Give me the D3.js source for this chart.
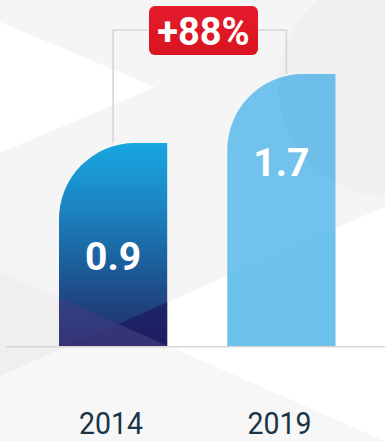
<!DOCTYPE html>
<html>
<head>
<meta charset="utf-8">
<script src="https://cdn.jsdelivr.net/npm/d3@7/dist/d3.min.js"></script>
<style>
  html, body { margin: 0; padding: 0; background: #f5f5f5; }
  svg { display: block; }
</style>
</head>
<body>
<svg id="chart" width="385" height="441"></svg>
<script>
// Chart data
const years = ["2014", "2019"];
const values = [0.9, 1.7];
const valueLabels = ["0.9", "1.7"];
const changeLabel = "+88%";

const W = 385, H = 441;
const svg = d3.select("#chart");
const defs = svg.append("defs");

// Scales
const x = d3.scaleBand().domain(years).range([59, 335.5]).paddingInner(0.357).paddingOuter(0);
const y = d3.scaleLinear().domain([-1.45, 1.7]).range([346, 74]);
const baseY = y(-1.45);
const r = 76;

// Background geometry: two crossing diagonals and faint shapes
const la = xv => 272 + 0.44 * xv;   // rising diagonal
const lb = xv => 376 - 0.44 * xv;   // falling diagonal
const cx = 104 / 0.88, cy = la(cx);

const bg = svg.append("g");
bg.append("rect").attr("width", W).attr("height", H).attr("fill", "#f5f5f5");
bg.append("polygon").attr("points", [[0, 22], [155, 87], [0, 153]].join(" ")).attr("fill", "#ffffff");
bg.append("circle").attr("cx", 390).attr("cy", 85).attr("r", 112).attr("fill", "#000").attr("opacity", 0.018);
bg.append("polygon").attr("points", [[0, la(0)], [cx, cy], [0, lb(0)]].join(" ")).attr("fill", "#efefef");
bg.append("polygon").attr("points", [[cx, cy], [W, lb(W)], [W, la(W)]].join(" ")).attr("fill", "#ffffff");
bg.append("polygon").attr("points", [[0, lb(0)], [cx, cy], [W, la(W)], [W, H], [0, H]].join(" ")).attr("fill", "#f7f7f7");

// Bar outline with a rounded top-left corner
function barPath(d, i) {
  const x0 = x(years[i]), x1 = x0 + x.bandwidth(), t = y(d);
  return `M${x0},${baseY} L${x0},${t + r} A${r},${r} 0 0 1 ${x0 + r},${t} L${x1},${t} L${x1},${baseY} Z`;
}

// Gradient for the 2014 bar
const grad = defs.append("linearGradient").attr("id", "g2014")
  .attr("gradientUnits", "userSpaceOnUse")
  .attr("x1", 0).attr("x2", 0).attr("y1", y(values[0])).attr("y2", baseY);
[[0, "#18a6e1"], [0.3, "#1b87c3"], [0.55, "#1a65a2"], [0.8, "#1f437f"], [1, "#262c6c"]]
  .forEach(([o, c]) => grad.append("stop").attr("offset", o).attr("stop-color", c));

const badgeGrad = defs.append("linearGradient").attr("id", "badge")
  .attr("x1", 0).attr("x2", 0).attr("y1", 0).attr("y2", 1);
badgeGrad.append("stop").attr("offset", 0).attr("stop-color", "#e51c2c");
badgeGrad.append("stop").attr("offset", 1).attr("stop-color", "#d9131f");

values.forEach((v, i) => {
  defs.append("clipPath").attr("id", "clip" + i).append("path").attr("d", barPath(v, i));
});

// Bracket connecting the two bars
const bx0 = x(years[0]) + x.bandwidth() / 2;
const bx1 = x(years[1]) + x.bandwidth() / 2 + 5;
const bTop = 30;
svg.append("path")
  .attr("d", `M${bx0},${y(values[0])} L${bx0},${bTop} L${bx1},${bTop} L${bx1},${y(values[1])}`)
  .attr("fill", "none").attr("stroke", "#d6d6d6").attr("stroke-width", 1.6);

// Bars
const bars = svg.append("g");
bars.selectAll("path.bar").data(values).join("path")
  .attr("class", "bar")
  .attr("d", barPath)
  .attr("fill", (d, i) => i === 0 ? "url(#g2014)" : "#6cc1ed");

// Tinted background shapes showing through the bars
const o1 = svg.append("g").attr("clip-path", "url(#clip0)");
o1.append("polygon").attr("points", [[0, la(0)], [cx, cy], [0, lb(0)]].join(" ")).attr("fill", "#4a3d86").attr("opacity", 0.45);
o1.append("polygon").attr("points", [[cx, cy], [W, lb(W)], [W, la(W)]].join(" ")).attr("fill", "#1a1259").attr("opacity", 0.6);
o1.append("polygon").attr("points", [[0, lb(0)], [cx, cy], [W, la(W)], [W, H], [0, H]].join(" ")).attr("fill", "#44377a").attr("opacity", 0.55);

const o2 = svg.append("g").attr("clip-path", "url(#clip1)");
o2.append("polygon").attr("points", [[0, 0], [W, 0], [W, lb(W)], [0, lb(0)]].join(" ")).attr("fill", "#ffffff").attr("opacity", 0.04);
o2.append("circle").attr("cx", 390).attr("cy", 85).attr("r", 112).attr("fill", "#1a5f8a").attr("opacity", 0.045);

// Baseline
svg.append("line").attr("x1", 6).attr("x2", W).attr("y1", baseY + 0.8).attr("y2", baseY + 0.8)
  .attr("stroke", "#d8d8d8").attr("stroke-width", 1.6);

// Value labels
const labelDrop = v => v < 1 ? 127 : 102;
svg.append("g").selectAll("text").data(values).join("text")
  .attr("x", (d, i) => x(years[i]) + x.bandwidth() / 2)
  .attr("y", d => y(d) + labelDrop(d))
  .attr("text-anchor", "middle")
  .attr("font-family", "Roboto, 'DejaVu Sans', sans-serif")
  .attr("font-weight", 700)
  .attr("font-size", 39)
  .attr("fill", "#ffffff")
  .text((d, i) => valueLabels[i]);

// Change badge
svg.append("rect").attr("x", 149).attr("y", 6).attr("width", 109).attr("height", 49).attr("rx", 6)
  .attr("fill", "url(#badge)");
svg.append("text").attr("x", 203.5).attr("y", 45)
  .attr("text-anchor", "middle")
  .attr("font-family", "Roboto, 'DejaVu Sans', sans-serif")
  .attr("font-weight", 700).attr("font-size", 38).attr("fill", "#ffffff")
  .text(changeLabel);

// Category axis labels
const xAxis = d3.axisBottom(x).tickSize(0).tickPadding(0);
const ax = svg.append("g").attr("transform", `translate(0,${baseY})`).call(xAxis);
ax.select(".domain").remove();
ax.selectAll("text")
  .attr("y", 88)
  .attr("dy", 0)
  .attr("dx", -2)
  .attr("font-family", "Roboto, 'DejaVu Sans', sans-serif")
  .attr("font-size", 31)
  .attr("fill", "#1b3446")
  .attr("textLength", 64)
  .attr("lengthAdjust", "spacingAndGlyphs");
</script>
</body>
</html>
